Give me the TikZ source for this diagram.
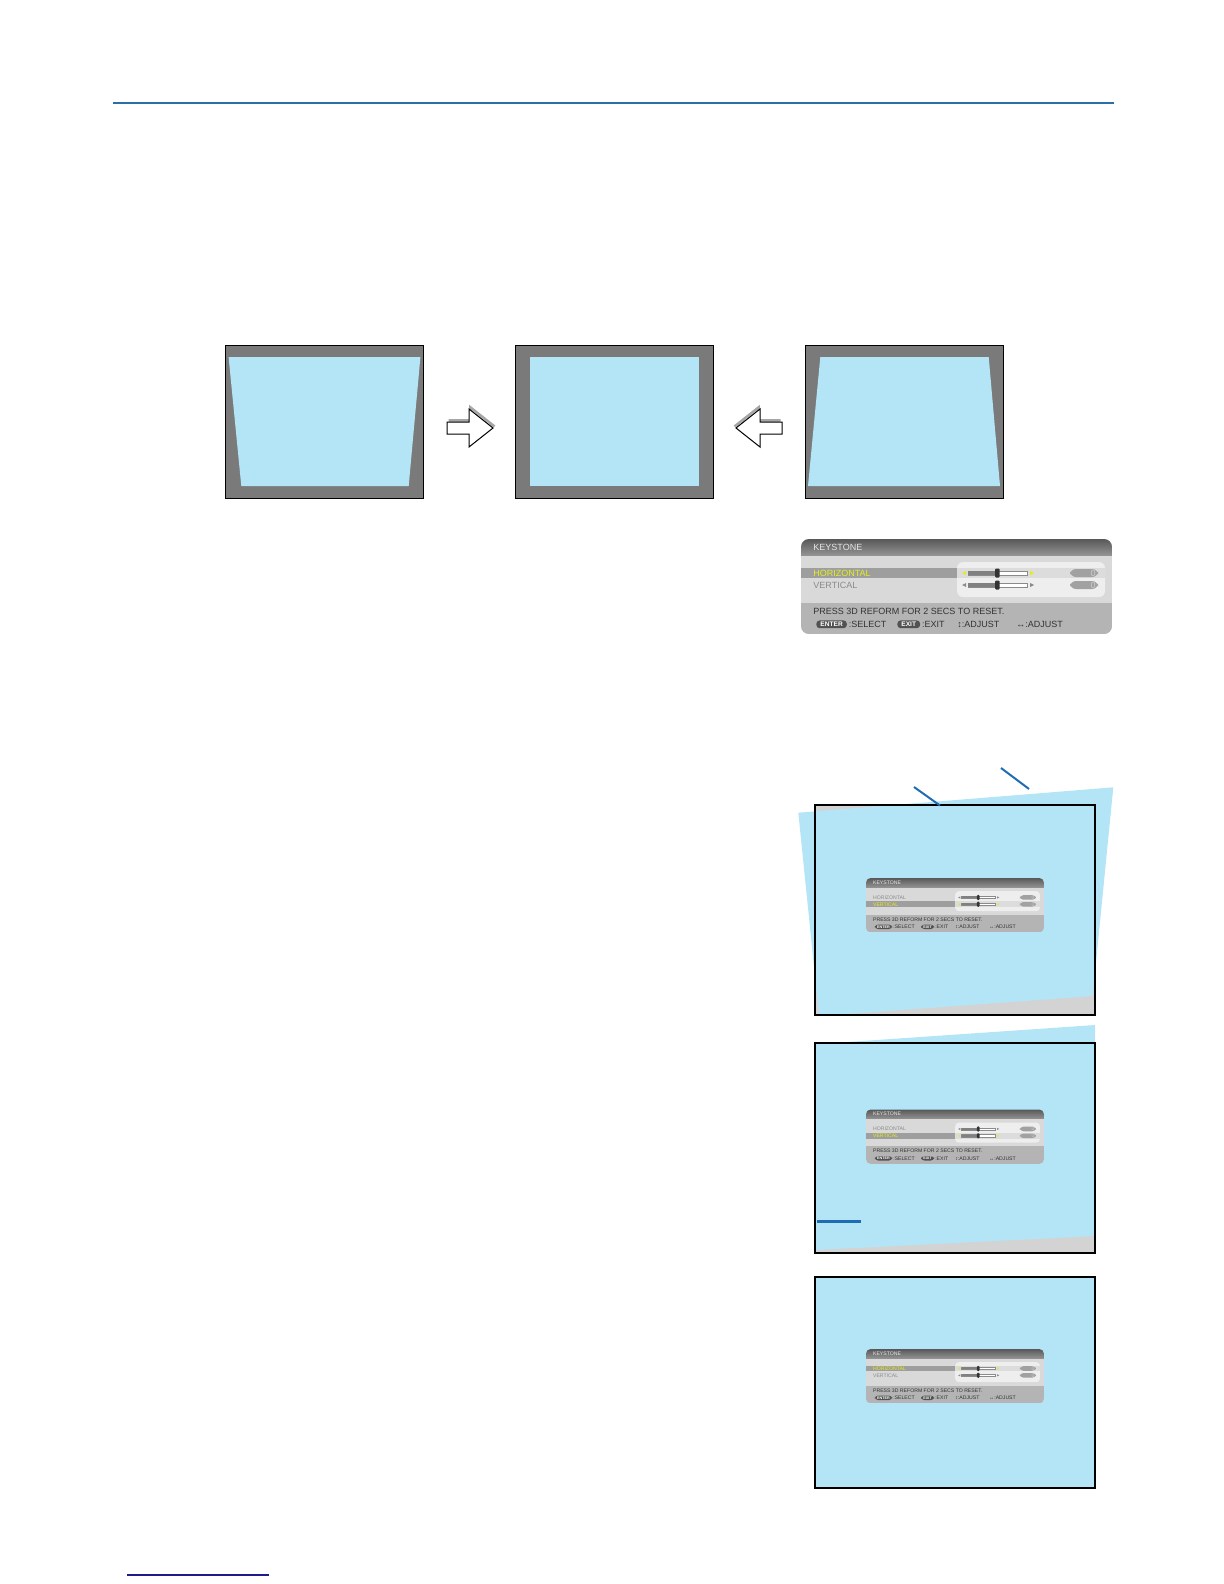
\documentclass[tikz,border=0pt]{standalone}
\usepackage{fontspec}
\setsansfont{Liberation Sans}
\usepackage{tikz}
\usepackage{xcolor}
\usetikzlibrary{positioning, calc}
\definecolor{sky}{HTML}{B4E5F7}
\definecolor{slate}{HTML}{7A7A7A}
\definecolor{wall}{HTML}{D3D3D3}
\definecolor{rule}{HTML}{2C6EA6}
\definecolor{navy}{HTML}{1C1C8A}
\definecolor{lead}{HTML}{1F6CB4}
\definecolor{osdbar}{HTML}{6E6E6E}
\definecolor{osdbody}{HTML}{D9D9D9}
\definecolor{osdfoot}{HTML}{B4B4B4}
\definecolor{osdsel}{HTML}{9E9E9E}
\definecolor{osdpanel}{HTML}{EEEEEE}
\definecolor{osdpick}{HTML}{DCDCDC}
\definecolor{osdtext}{HTML}{8A8A8A}
\definecolor{osddark}{HTML}{333333}
\definecolor{osdyellow}{HTML}{E2EE18}

\newcommand\keymenu[4]{%
  \begin{scope}[shift={#2}, scale=#3, transform shape]
    \begin{scope}
      \clip[rounded corners=#3*4pt] (0,0) rectangle (311,95);
      \fill[osdbody] (0,0) rectangle (311,95);
      \shade[top color=osdbar!80!black, bottom color=osdbar!75!white] (0,0) rectangle (311,16);
      \fill[osdfoot] (0,64) rectangle (311,95);
    \end{scope}
    \fill[osdpanel, rounded corners=#3*3pt] (156,23) rectangle (304,58);
    \node[osdlbl, text=white!90!black, anchor=west] (#1-title) at (12,8) {KEYSTONE};
    \foreach \r/\lbl in {1/HORIZONTAL, 2/VERTICAL} {
      \pgfmathsetmacro\ry{22+12*\r}
      \ifnum\r=#4\relax
        \fill[osdsel] (0,\ry-5) rectangle (156,\ry+5);
        \fill[osdpick] (156,\ry-5) rectangle (304,\ry+5);
        \def\rowcol{osdyellow}
      \else
        \def\rowcol{osdtext}
      \fi
      \node[osdlbl, text=\rowcol, anchor=west] (#1-row\r) at (12,\ry) {\lbl};
      \fill[\rowcol] (165,\ry-2) -- (161,\ry) -- (165,\ry+2) -- cycle;
      \fill[\rowcol] (229,\ry-2) -- (233,\ry) -- (229,\ry+2) -- cycle;
      \draw[osdtext, fill=white, line width=0.3pt] (167,\ry-1.8) rectangle (226,\ry+1.8);
      \fill[gray] (167,\ry-1.8) rectangle (196,\ry+1.8);
      \fill[osddark, rounded corners=0.5pt] (194,\ry-4.5) rectangle (198.5,\ry+4.5);
      \fill[osdtext!80, rounded corners=#3*3pt] (269,\ry-4) rectangle (297,\ry+4);
      \node[osdlbl, text=white!80!black, anchor=east] (#1-val\r) at (295,\ry) {0};
    }
    \node[osdlbl, text=osddark, anchor=west] (#1-reset) at (12,72.7) {PRESS 3D REFORM FOR 2 SECS TO RESET.};
    \node[osdkey, anchor=west] (#1-enter) at (15,85.3) {ENTER};
    \node[osdlbl, text=osddark, right=0.6pt of #1-enter] (#1-select) {:SELECT};
    \node[osdkey, anchor=west] (#1-exit) at (96,85.3) {EXIT};
    \node[osdlbl, text=osddark, right=0.6pt of #1-exit] (#1-quit) {:EXIT};
    \node[osdlbl, text=osddark, anchor=west] (#1-vadj) at (156,85.3) {↕:ADJUST};
    \node[osdlbl, text=osddark, anchor=west] (#1-hadj) at (215,85.3) {↔:ADJUST};
  \end{scope}}

\begin{document}
\begin{tikzpicture}[x=0.5pt, y=-0.5pt,
  osdlbl/.style={font=\sffamily\fontsize{4.5}{5}\selectfont, inner sep=0pt},
  osdkey/.style={font=\sffamily\bfseries\fontsize{3.3}{4}\selectfont, fill=osddark!85,
                 text=white, rounded corners=1.6pt, inner xsep=2pt, inner ysep=0.8pt},
  frame/.style={draw=black, line width=1pt},
  leader/.style={draw=lead, line width=1pt}
]
  \useasboundingbox (0,0) rectangle (1224,1584);
  \draw[rule, line width=1.2pt] (113,103) -- (1114,103);
  \draw[navy, line width=0.8pt] (127,1575) -- (269,1575);

  \foreach \px/\a/\b/\c/\d in {225/3.6/195.4/183.7/16.3, 515/15.3/183.7/183.7/15.3, 805/15.3/183.7/195/3} {
    \fill[slate] (\px,345) rectangle ++(198,153);
    \fill[sky] (\px+\a,357) -- (\px+\b,357) -- (\px+\c,486) -- (\px+\d,486) -- cycle;
    \draw[black, line width=0.5pt] (\px,345) rectangle ++(198,153);
  }
  \foreach \x/\s in {447/1, 782/-1} {
    \begin{scope}[shift={(\x,0)}, xscale=\s]
      \draw[gray!70, line width=1.3pt] (1.5,420.5) -- (23.5,420.5) -- (23.5,407.5) -- (47.5,426.5);
      \filldraw[fill=white, draw=black, line width=0.5pt] (0,422) -- (22,422) -- (22,409) -- (46,428)
        -- (22,447) -- (22,434) -- (0,434) -- cycle;
    \end{scope}
  }

  \keymenu{big}{(801,539)}{1}{1}

  \fill[wall] (815,805) rectangle (1095,1015);
  \fill[sky] (798.3,812.7) -- (1113.3,787.3) -- (1092.7,996) -- (819,1016) -- cycle;
  \draw[frame] (815,805) rectangle (1095,1015);
  \coordinate (lead1a) at (914,787);
  \coordinate (lead1b) at (940,805.5);
  \coordinate (lead2a) at (1001,768);
  \coordinate (lead2b) at (1029,789);
  \draw[leader] (lead1a) -- (lead1b);
  \draw[leader] (lead2a) -- (lead2b);
  \keymenu{tilt}{(866,878)}{0.572}{2}

  \fill[wall] (815,1043) rectangle (1095,1253);
  \fill[sky] (815,1044.2) -- (1095,1025) -- (1095,1236) -- (815,1250) -- cycle;
  \draw[frame] (815,1043) rectangle (1095,1253);
  \coordinate (mark1) at (816.5,1221.5);
  \coordinate (mark2) at (860.5,1221.5);
  \draw[leader, line width=1.3pt] (mark1) -- (mark2);
  \keymenu{lean}{(866,1109.5)}{0.572}{2}

  \fill[sky] (815,1277) rectangle (1095,1488);
  \draw[frame] (815,1277) rectangle (1095,1488);
  \keymenu{flat}{(866,1349)}{0.572}{1}
\end{tikzpicture}
\end{document}
